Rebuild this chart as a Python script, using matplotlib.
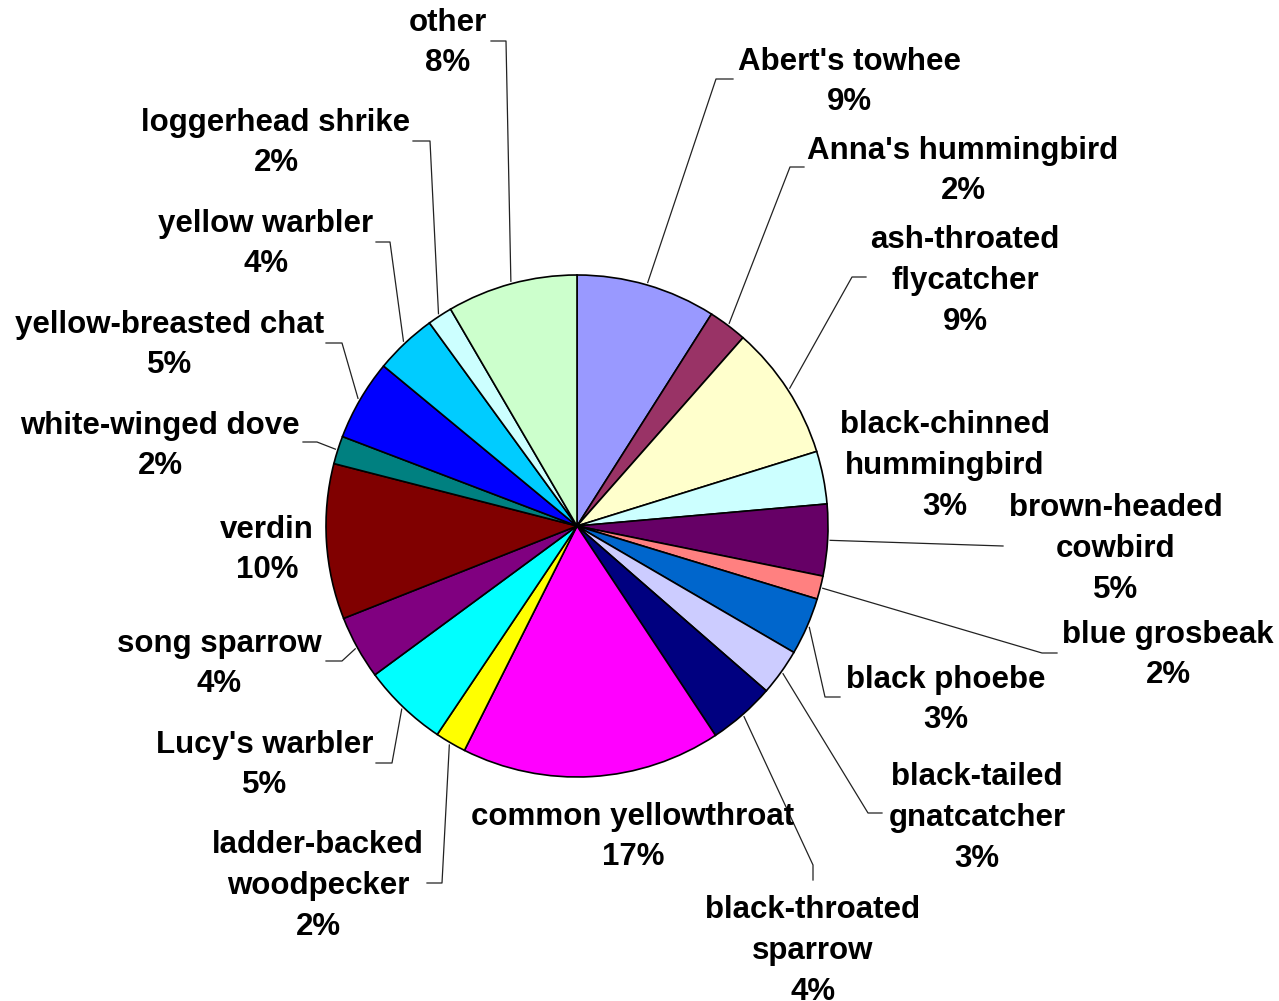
import numpy as np
import matplotlib.pyplot as plt

plt.rcParams['font.family'] = ['Liberation Sans', 'DejaVu Sans']

# species in clockwise order from 12 o'clock
species = ["Abert's towhee", "Anna's hummingbird", "ash-throated\nflycatcher",
           "black-chinned\nhummingbird", "brown-headed\ncowbird", "blue grosbeak",
           "black phoebe", "black-tailed\ngnatcatcher", "black-throated\nsparrow",
           "common yellowthroat", "ladder-backed\nwoodpecker", "Lucy's warbler",
           "song sparrow", "verdin", "white-winged dove", "yellow-breasted chat",
           "yellow warbler", "loggerhead shrike", "other"]
# shares (percent)
shares = [9.0, 2.5, 8.7, 3.4, 4.6, 1.5, 3.7, 3.0, 4.3, 16.7,
          2.0, 5.5, 4.1, 10.0, 1.8, 5.2, 4.0, 1.6, 8.4]
# percentages as printed on the chart
printed = [9, 2, 9, 3, 5, 2, 3, 3, 4, 17, 2, 5, 4, 10, 2, 5, 4, 2, 8]
colors = ['#9999FF', '#993366', '#FFFFCC', '#CCFFFF', '#660066', '#FF8080',
          '#0066CC', '#CCCCFF', '#000080', '#FF00FF', '#FFFF00', '#00FFFF',
          '#800080', '#800000', '#008080', '#0000FF', '#00CCFF', '#CCFFFF',
          '#CCFFCC']

# layout (pixel coords, y down): label block centres and leader line bends
W, H = 1279, 1001
label_xy = [(849, 82), (963, 171), (965, 281), (945, 466), (1116, 549),
            (1168, 655), (946, 700), (977, 818), (813, 951), (633, 837),
            (318, 886), (265, 765), (219, 664), (267, 550), (160, 446),
            (170, 345), (266, 244), (276, 143), (448, 43)]
leaders = [[(716, 79), (733, 79)], [(790, 167), (804, 167)],
           [(852, 277), (866, 277)], None, [(1003, 546)],
           [(1042, 653), (1057, 653)], [(825, 697), (840, 697)],
           [(868, 813), (882, 813)], [(813, 865), (813, 880)], None,
           [(442, 883), (427, 883)], [(392, 763), (376, 763)],
           [(342, 661), (326, 661)], None, [(317, 442), (303, 442)],
           [(342, 343), (326, 343)], [(390, 242), (376, 242)],
           [(430, 141), (413, 141)], [(506, 41), (491, 41)]]

cx, cy, r = 577, 526, 251

fig = plt.figure(figsize=(W / 100, H / 100), dpi=100)
ax = fig.add_axes([0, 0, 1, 1])

wedges, _ = ax.pie(shares, colors=colors, startangle=90, counterclock=False,
                   center=(cx, H - cy), radius=r,
                   wedgeprops=dict(edgecolor='black', linewidth=1.2))
ax.set_xlim(0, W)
ax.set_ylim(0, H)
ax.set_aspect('equal')
ax.axis('off')

for i, w in enumerate(wedges):
    mid = np.deg2rad((w.theta1 + w.theta2) / 2)
    if leaders[i] is not None:
        xs = [cx + 1.01 * r * np.cos(mid)] + [p[0] for p in leaders[i]]
        ys = [H - cy + 1.01 * r * np.sin(mid)] + [H - p[1] for p in leaders[i]]
        ax.plot(xs, ys, color='#222222', linewidth=0.9)
    lx, ly = label_xy[i]
    ax.text(lx, H - ly, f"{species[i]}\n{printed[i]}%", ha='center', va='center',
            fontsize=22.5, fontweight='bold', linespacing=1.46)

fig.savefig('out.png', dpi=100)
